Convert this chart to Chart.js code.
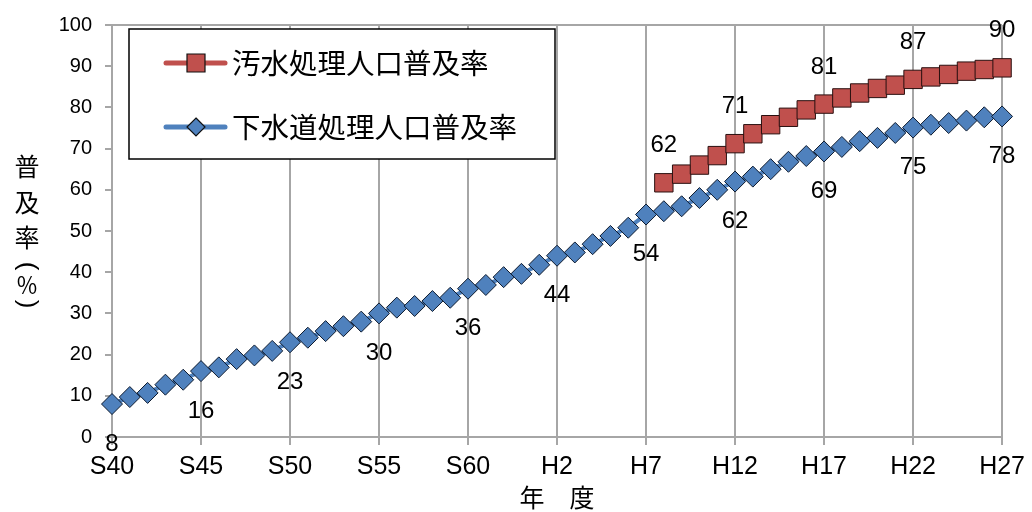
<!DOCTYPE html>
<html>
<head>
<meta charset="utf-8">
<script src="https://cdn.jsdelivr.net/npm/chart.js@4.4.1/dist/chart.umd.min.js"></script>
<style>
html,body{margin:0;padding:0;background:#fff;}
#wrap{width:1032px;height:512px;}
</style>
</head>
<body>
<div id="wrap"><canvas id="c" width="1032" height="512"></canvas></div>
<script>
// Fiscal years S40 (1965) ... H27 (2015)
const years = [
  'S40','S41','S42','S43','S44','S45','S46','S47','S48','S49',
  'S50','S51','S52','S53','S54','S55','S56','S57','S58','S59',
  'S60','S61','S62','S63','H1','H2','H3','H4','H5','H6',
  'H7','H8','H9','H10','H11','H12','H13','H14','H15','H16',
  'H17','H18','H19','H20','H21','H22','H23','H24','H25','H26','H27'
];
// 下水道処理人口普及率 (%)
const sewerRate = [
  8, 9.7, 10.7, 12.7, 13.9, 16, 16.9, 18.9, 19.8, 20.9,
  23, 24.1, 25.7, 26.9, 28, 30, 31.4, 31.8, 33, 33.8,
  36, 36.9, 38.8, 39.6, 41.8, 44, 44.8, 46.8, 48.8, 50.8,
  54, 54.8, 56, 58, 60, 62, 63.2, 65, 66.8, 68.2,
  69.3, 70.4, 71.8, 72.6, 73.8, 75.1, 75.8, 76.2, 76.8, 77.6, 77.8
];
// 汚水処理人口普及率 (%) — from H8
const wastewaterRate = [
  null,null,null,null,null,null,null,null,null,null,
  null,null,null,null,null,null,null,null,null,null,
  null,null,null,null,null,null,null,null,null,null,
  null, 61.7, 63.8, 66, 68.3, 71.2, 73.6, 75.8, 77.6, 79.4,
  80.8, 82.3, 83.5, 84.6, 85.4, 86.8, 87.4, 88, 88.8, 89.2, 89.6
];
const sewerLabelIdx = [0,5,10,15,20,25,30,35,40,45,50];
const wastewaterLabelIdx = [31,35,40,45,50];
const yTicks = [0,10,20,30,40,50,60,70,80,90,100];
const legendLabels = ['汚水処理人口普及率','下水道処理人口普及率'];
const yTitleChars = ['普','及','率'];
const yTitleParenOpen = '(', yTitlePercent = '％', yTitleParenClose = ')';
const xTitle = '年　度';

const BLUE = '#4F81BD', RED = '#C0504D', GRID = '#A6A6A6';
const CJK = '"Noto Sans CJK JP", "Noto Sans CJK SC", sans-serif';
const LAT = '"Liberation Sans", Arial, sans-serif';

const dataLabelPlugin = {
  id: 'dataLabels',
  afterDatasetsDraw(chart) {
    const ctx = chart.ctx;
    ctx.save();
    ctx.font = '24px ' + LAT;
    ctx.fillStyle = '#000';
    ctx.textAlign = 'center';
    ctx.textBaseline = 'middle';
    const specs = [
      {ds: 0, idx: wastewaterLabelIdx, dy: -37},
      {ds: 1, idx: sewerLabelIdx, dy: 40}
    ];
    specs.forEach(s => {
      const meta = chart.getDatasetMeta(s.ds);
      const data = chart.data.datasets[s.ds].data;
      s.idx.forEach(i => {
        const el = meta.data[i];
        if (!el || data[i] == null) return;
        ctx.fillText(String(Math.round(data[i])), el.x, el.y + s.dy);
      });
    });
    ctx.restore();
  }
};

const legendPlugin = {
  id: 'boxLegend',
  afterDatasetsDraw(chart) {
    const ctx = chart.ctx;
    ctx.save();
    const bx = 129, by = 29, bw = 426, bh = 130;
    ctx.fillStyle = '#fff';
    ctx.fillRect(bx, by, bw, bh);
    ctx.strokeStyle = '#000';
    ctx.lineWidth = 1.5;
    ctx.strokeRect(bx, by, bw, bh);
    const rows = [63, 127];
    chart.data.datasets.forEach((ds, k) => {
      const y = rows[k];
      ctx.strokeStyle = ds.borderColor;
      ctx.lineWidth = 5;
      ctx.lineCap = 'round';
      ctx.beginPath();
      ctx.moveTo(166, y);
      ctx.lineTo(225, y);
      ctx.stroke();
      ctx.fillStyle = ds.pointBackgroundColor;
      ctx.strokeStyle = '#111';
      ctx.lineWidth = 1.2;
      ctx.beginPath();
      if (ds.pointStyle === 'rect') {
        ctx.rect(196 - 9, y - 9, 18, 18);
      } else {
        ctx.moveTo(196, y - 9); ctx.lineTo(205, y); ctx.lineTo(196, y + 9); ctx.lineTo(187, y); ctx.closePath();
      }
      ctx.fill(); ctx.stroke();
      ctx.fillStyle = '#000';
      ctx.font = '28.5px ' + CJK;
      ctx.textAlign = 'left';
      ctx.textBaseline = 'middle';
      ctx.fillText(ds.label, 232, y);
    });
    ctx.restore();
  }
};

const yTitlePlugin = {
  id: 'yTitle',
  afterDraw(chart) {
    const ctx = chart.ctx;
    ctx.save();
    ctx.fillStyle = '#000';
    ctx.font = '25px ' + CJK;
    ctx.textAlign = 'center';
    ctx.textBaseline = 'middle';
    const ys = [166, 202, 237];
    yTitleChars.forEach((ch, i) => ctx.fillText(ch, 27, ys[i]));
    ctx.font = '22px ' + CJK;
    ctx.fillText(yTitlePercent, 27, 285);
    [[yTitleParenOpen, 266], [yTitleParenClose, 304]].forEach(([t, y]) => {
      ctx.save();
      ctx.translate(27, y);
      ctx.rotate(Math.PI / 2);
      ctx.font = '26px ' + LAT;
      ctx.fillText(t, 0, 0);
      ctx.restore();
    });
    ctx.restore();
  }
};

new Chart(document.getElementById('c'), {
  type: 'line',
  data: {
    labels: years,
    datasets: [
      {
        label: legendLabels[0],
        data: wastewaterRate,
        borderColor: RED,
        borderWidth: 4,
        pointStyle: 'rect',
        pointRadius: 13,
        pointBackgroundColor: RED,
        pointBorderColor: '#2a1010',
        pointBorderWidth: 1,
        spanGaps: false
      },
      {
        label: legendLabels[1],
        data: sewerRate,
        borderColor: BLUE,
        borderWidth: 4,
        pointStyle: 'rectRot',
        pointRadius: 10.5,
        pointBackgroundColor: BLUE,
        pointBorderColor: '#0d1a2e',
        pointBorderWidth: 1
      }
    ]
  },
  options: {
    responsive: false,
    animation: false,
    layout: {padding: {left: 0, right: 27, top: 20, bottom: 0}},
    plugins: {legend: {display: false}, tooltip: {enabled: false}},
    scales: {
      x: {
        offset: false,
        grid: {
          color: c => (c.index % 5 === 0 ? GRID : 'rgba(0,0,0,0)'),
          tickColor: c => (c.index % 5 === 0 ? GRID : 'rgba(0,0,0,0)'),
          lineWidth: 2,
          tickLength: 8
        },
        border: {color: GRID, width: 2},
        ticks: {
          autoSkip: false,
          maxRotation: 0,
          color: '#000',
          font: {family: LAT, size: 25},
          padding: 7,
          callback: (v, i) => (i % 5 === 0 ? years[i] : '')
        },
        title: {
          display: true,
          text: xTitle,
          color: '#000',
          font: {family: CJK, size: 25},
          padding: {top: 0, bottom: 0}
        },
        afterFit: s => { s.height = 75; }
      },
      y: {
        min: 0,
        max: 100,
        afterBuildTicks: s => { s.ticks = yTicks.map(v => ({value: v})); },
        grid: {
          color: c => (c.tick && c.tick.value === 100 ? GRID : 'rgba(0,0,0,0)'),
          tickColor: GRID,
          lineWidth: 2,
          tickLength: 7
        },
        border: {color: GRID, width: 2},
        ticks: {
          color: '#000',
          font: {family: LAT, size: 20},
          padding: 13
        },
        afterFit: s => { s.width = 112; }
      }
    }
  },
  plugins: [dataLabelPlugin, legendPlugin, yTitlePlugin]
});
</script>
</body>
</html>
